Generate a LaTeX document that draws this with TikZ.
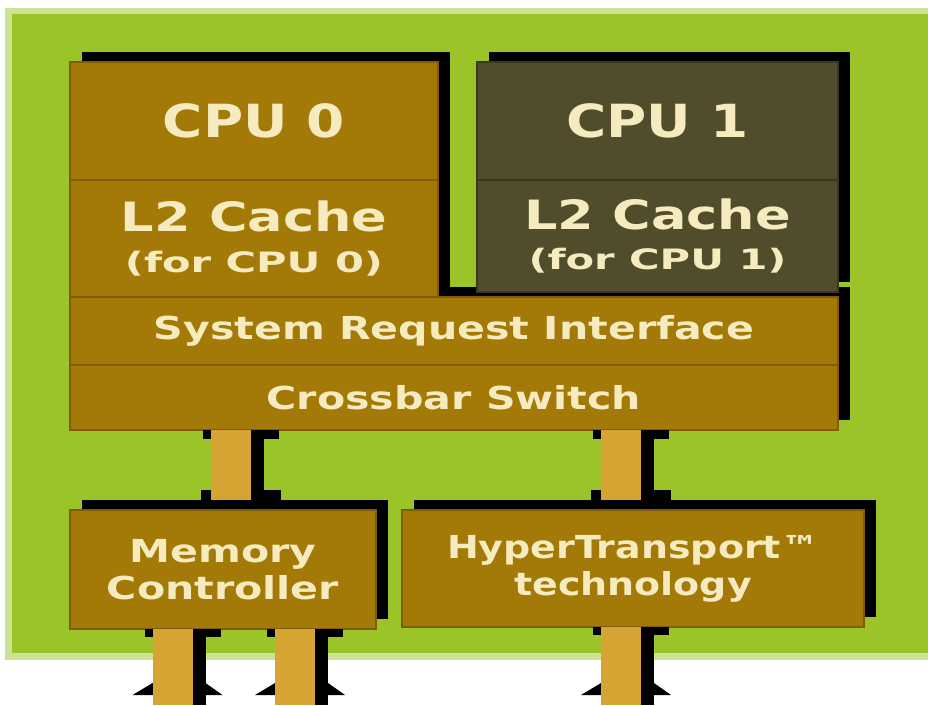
\documentclass[tikz,border=0pt]{standalone}
\usepackage{fontspec}
\setmainfont{DejaVu Sans}
\newfontfamily\chipfont{DejaVu Sans}[FakeStretch=1.3]
\newfontfamily\headfont{DejaVu Sans}[FakeStretch=1.2]
\newfontfamily\notefont{DejaVu Sans}[FakeStretch=1.48]
\usetikzlibrary{shadows,calc}

\definecolor{bggreen}{RGB}{155,196,40}
\definecolor{bgpale}{RGB}{206,226,150}
\definecolor{chipbrown}{RGB}{163,121,8}
\definecolor{edgebrown}{RGB}{126,92,10}
\definecolor{cpuolive}{RGB}{80,76,44}
\definecolor{cpuedge}{RGB}{60,56,32}
\definecolor{bustan}{RGB}{214,164,50}
\definecolor{labelcream}{RGB}{246,235,190}

\tikzset{
  chip/.style={rectangle, inner sep=0pt, outer sep=0pt, fill=chipbrown, draw=edgebrown,
    line width=1pt, text=labelcream, align=center,
    general shadow={fill=black, shadow xshift=0.24cm, shadow yshift=0.2cm}},
  cpudark/.style={chip, fill=cpuolive, draw=cpuedge},
  bandtext/.style={font=\chipfont\bfseries\fontsize{18}{21}\selectfont},
  headtext/.style={font=\headfont\bfseries\fontsize{26}{30}\selectfont},
  cachetext/.style={font=\chipfont\bfseries\fontsize{23}{26}\selectfont},
  httext/.style={font=\headfont\bfseries\fontsize{18}{21}\selectfont}
}

\begin{document}
\begin{tikzpicture}
    \useasboundingbox (0,0) rectangle (18.56,14.10);

    % 绿色底板
    \fill[bgpale] (0.10,0.90) rectangle (18.56,13.94);
    \fill[bggreen] (0.24,1.04) rectangle (18.56,13.82);

    % 交叉开关和系统请求接口 (先画, 阴影被 CPU 盖住)
    \node[chip, bandtext, minimum width=15.36cm, minimum height=1.30cm] (xbar) at (9.08,6.15) {Crossbar Switch};
    \node[chip, bandtext, minimum width=15.36cm, minimum height=1.36cm] (sri) at (9.08,7.48) {System Request Interface};

    % 两个 CPU 和各自的二级缓存
    \node[chip, cachetext, minimum width=7.36cm, minimum height=2.34cm] (l2a) at (5.08,9.33)
        {L2 Cache\\[-3pt]{\notefont\fontsize{16}{18}\selectfont (for CPU 0)}};
    \node[chip, headtext, minimum width=7.36cm, minimum height=2.36cm] (cpu0) at (5.08,11.68) {CPU 0};
    \node[cpudark, cachetext, minimum width=7.22cm, minimum height=2.24cm] (l2b) at (13.15,9.38)
        {L2 Cache\\[-3pt]{\notefont\fontsize{16}{18}\selectfont (for CPU 1)}};
    \node[cpudark, headtext, minimum width=7.22cm, minimum height=2.36cm] (cpu1) at (13.15,11.68) {CPU 1};

    % 内存控制器和 HyperTransport
    \node[chip, bandtext, minimum width=6.12cm, minimum height=2.38cm] (mem) at (4.46,2.71) {Memory\\Controller};
    \node[chip, httext, minimum width=9.24cm, minimum height=2.34cm] (ht) at (12.66,2.73) {HyperTransport™\\technology};

    % 总线箭头的位置
    \coordinate (m1) at (4.62,0);
    \coordinate (h1) at (12.42,0);
    \coordinate (m2) at (3.45,0);
    \coordinate (m3) at (5.90,0);

    % 交叉开关 <-> 内存控制器 / HyperTransport
    \foreach \bx/\bn in {m1/mem, h1/ht} {
        \coordinate (top) at (xbar.south -| \bx);
        \coordinate (bot) at ($(\bn.north -| \bx)+(0,0.2)$);
        \fill[black] ([xshift=-0.56cm,yshift=-0.18cm]top) rectangle ([xshift=0.96cm]top);
        \fill[black] ([xshift=-0.60cm]bot) rectangle ([xshift=1.0cm,yshift=0.2cm]bot);
        \fill[black] ([xshift=-0.4cm]top) rectangle ([xshift=0.66cm]bot);
        \fill[bustan] ([xshift=-0.4cm]top) rectangle ([xshift=0.4cm]bot);
    }

    % 向外的总线
    \foreach \bx/\bn in {m2/mem, m3/mem, h1/ht} {
        \coordinate (top) at (\bn.south -| \bx);
        \coordinate (bot) at (\bx);
        \fill[black] ([xshift=-0.56cm,yshift=-0.16cm]top) rectangle ([xshift=0.96cm]top);
        \fill[black] ([xshift=-0.4cm,yshift=0.44cm]bot) -- ([xshift=-0.8cm,yshift=0.2cm]bot)
            -- ([xshift=1.0cm,yshift=0.2cm]bot) -- ([xshift=0.66cm,yshift=0.44cm]bot) -- cycle;
        \fill[black] ([xshift=-0.4cm]top) rectangle ([xshift=0.66cm]bot);
        \fill[bustan] ([xshift=-0.4cm]top) rectangle ([xshift=0.4cm]bot);
    }

\end{tikzpicture}
\end{document}
